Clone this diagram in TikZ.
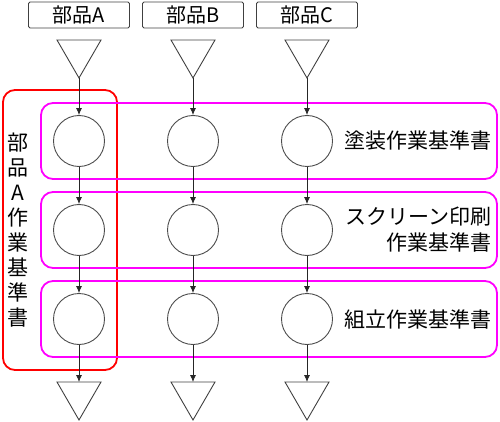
\documentclass[tikz,border=0pt]{standalone}
\usepackage{fontspec}
\newfontfamily\jp{Noto Sans CJK JP}
\usetikzlibrary{arrows.meta}
\definecolor{mag}{RGB}{255,0,255}
\definecolor{rd}{RGB}{255,0,0}
\begin{document}
\begin{tikzpicture}[x=1pt,y=-1pt,
  part/.style={draw=black!75,rounded corners=1.5pt,line width=0.9pt,minimum width=101pt,minimum height=26pt,inner sep=0pt,font=\jp\fontsize{20}{20}\selectfont},
  proc/.style={circle,draw=black!70,line width=0.9pt,minimum size=51pt,inner sep=0pt},
  tri/.style={draw=black!75,line width=0.9pt,line join=miter},
  arr/.style={draw=black!85,line width=0.8pt,-{Latex[length=7pt,width=6pt]}},
  grp/.style={draw=mag,line width=1.8pt,rounded corners=12pt},
  doc/.style={draw=rd,line width=1.8pt,rounded corners=12pt},
  lbl/.style={font=\jp\fontsize{21}{26}\selectfont,align=right,inner sep=0pt,anchor=east},
  vlbl/.style={font=\jp\fontsize{21}{25}\selectfont,align=center,inner sep=0pt}]
\useasboundingbox (0,0) rectangle (500,422);

% group frames
\draw[doc] (3,90) rectangle (117,370);
\draw[grp] (41,103) rectangle (497,179);
\draw[grp] (41,192) rectangle (497,268);
\draw[grp] (41,281) rectangle (497,357);

% labels
\node[vlbl] (va) at (18,230) {部\\品\\A\\作\\業\\基\\準\\書};
\node[lbl] (l1) at (492,141) {塗装作業基準書};
\node[lbl] (l2) at (492,230) {スクリーン印刷\\作業基準書};
\node[lbl] (l3) at (492,319) {組立作業基準書};

% columns
\foreach \n/\x in {A/79,B/193,C/307}{
  \node[part] (p\n) at (\x,15) {部品\n};
  \draw[tri] (\x-22,40) -- (\x+22,40) -- (\x,78) -- cycle;
  \coordinate (t\n) at (\x,78);
  \draw[tri] (\x-22,382) -- (\x+22,382) -- (\x,420) -- cycle;
  \coordinate (b\n) at (\x,382);
  \node[proc] (c1\n) at (\x,141) {};
  \node[proc] (c2\n) at (\x,230) {};
  \node[proc] (c3\n) at (\x,319) {};
  \draw[arr] (t\n) -- (c1\n.north);
  \draw[arr] (c1\n.south) -- (c2\n.north);
  \draw[arr] (c2\n.south) -- (c3\n.north);
  \draw[arr] (c3\n.south) -- (b\n);
}
\end{tikzpicture}
\end{document}
